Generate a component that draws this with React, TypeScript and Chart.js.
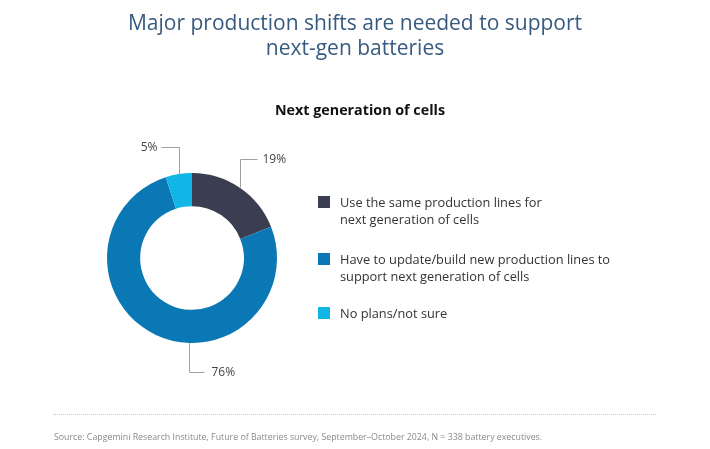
import React, { useEffect, useRef } from "react";
import { Chart, registerables } from "chart.js";

Chart.register(...registerables);

const categories = [
  "Use the same production lines for next generation of cells",
  "Have to update/build new production lines to support next generation of cells",
  "No plans/not sure",
];
const legendLines = [
  ["Use the same production lines for", "next generation of cells"],
  ["Have to update/build new production lines to", "support next generation of cells"],
  ["No plans/not sure"],
];
const values = [19, 76, 5];
const valueLabels = ["19%", "76%", "5%"];
const colors = ["#3b3e50", "#0a78b5", "#12b6e6"];

// leader-line geometry (annotation styling)
const anchorFrac = [0.5, 0.415, 0.5];
const elbowDy = [-99, 114, -111];
const hLen = [17, 15, -18];
const textGap = [5, 7, 4];

const FONT = "'Open Sans', 'Noto Sans', sans-serif";

export default function App() {
  const ref = useRef<HTMLCanvasElement | null>(null);

  useEffect(() => {
    document.body.style.margin = "0";
    const leaderPlugin = {
      id: "leaders",
      afterDraw(chart: any) {
        const ctx = chart.ctx;
        const meta = chart.getDatasetMeta(0);
        ctx.save();
        meta.data.forEach((arc: any, i: number) => {
          const p = arc.getProps(["x", "y", "startAngle", "endAngle", "outerRadius"], true);
          const a = p.startAngle + (p.endAngle - p.startAngle) * anchorFrac[i];
          const ax = Math.round(p.x + Math.cos(a) * p.outerRadius) + 0.5;
          const ay = p.y + Math.sin(a) * p.outerRadius;
          const ey = Math.round(p.y + elbowDy[i]) + 0.5;
          const ex = ax + hLen[i];
          ctx.strokeStyle = "#a0a0a0";
          ctx.lineWidth = 1;
          ctx.beginPath();
          ctx.moveTo(ax, ay);
          ctx.lineTo(ax, ey);
          ctx.lineTo(ex, ey);
          ctx.stroke();
          ctx.fillStyle = "#444";
          ctx.font = "12px " + FONT;
          ctx.textBaseline = "middle";
          ctx.textAlign = hLen[i] >= 0 ? "left" : "right";
          ctx.fillText(valueLabels[i], ex + (hLen[i] >= 0 ? textGap[i] : -textGap[i]), ey);
        });
        ctx.restore();
      },
    };
    const chart = new Chart(ref.current!, {
      type: "doughnut",
      data: {
        labels: categories,
        datasets: [
          {
            data: values,
            backgroundColor: colors,
            borderWidth: 0,
          },
        ],
      },
      options: {
        animation: false,
        responsive: false,
        cutout: "61%",
        layout: { padding: { left: 107, right: 433, top: 173, bottom: 106 } },
        plugins: {
          legend: { display: false },
          tooltip: { enabled: false },
        },
      },
      plugins: [leaderPlugin],
    });
    return () => chart.destroy();
  }, []);

  const legendTops = [194, 250.5, 304.5];

  return (
    <div style={{ position: "relative", width: 710, height: 449, background: "#fff", fontFamily: FONT, overflow: "hidden" }}>
      <canvas ref={ref} width={710} height={449} style={{ position: "absolute", left: 0, top: 0 }} />
      <div
        style={{
          position: "absolute",
          left: 0,
          width: 710,
          top: 10,
          textAlign: "center",
          color: "#375a80",
          fontSize: 21,
          fontWeight: 500,
          lineHeight: "25px",
        }}
      >
        Major production shifts are needed to support
        <br />
        next-gen batteries
      </div>
      <div
        style={{
          position: "absolute",
          left: 10,
          width: 700,
          top: 100,
          textAlign: "center",
          color: "#111",
          fontSize: 14.3,
          fontWeight: 700,
          lineHeight: "20px",
        }}
      >
        Next generation of cells
      </div>
      {legendLines.map((lines, i) => (
        <div key={i}>
          <div
            style={{
              position: "absolute",
              left: 318,
              top: legendTops[i] + 2,
              width: 12,
              height: 12,
              background: colors[i],
            }}
          />
          <div
            style={{
              position: "absolute",
              left: 340,
              top: legendTops[i],
              fontSize: 12.8,
              lineHeight: "17px",
              color: "#333",
              whiteSpace: "nowrap",
            }}
          >
            {lines.map((l, j) => (
              <div key={j}>{l}</div>
            ))}
          </div>
        </div>
      ))}
      <div
        style={{
          position: "absolute",
          left: 53,
          width: 603,
          top: 414,
          borderTop: "1px dotted #c8c8c8",
        }}
      />
      <div
        style={{
          position: "absolute",
          left: 54,
          top: 430,
          fontSize: 8.8,
          lineHeight: "14px",
          color: "#8a8a8a",
          whiteSpace: "nowrap",
        }}
      >
        Source: Capgemini Research Institute, Future of Batteries survey, September–October 2024, N = 338 battery executives.
      </div>
    </div>
  );
}
